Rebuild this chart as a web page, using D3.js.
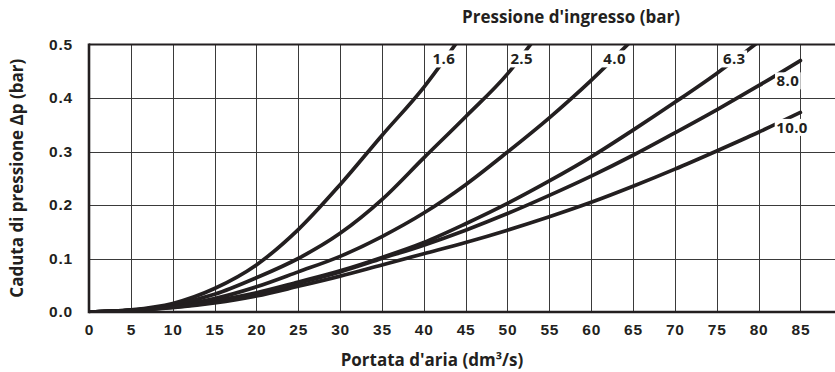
<!DOCTYPE html>
<html>
<head>
<meta charset="utf-8">
<script src="https://cdn.jsdelivr.net/npm/d3@7/dist/d3.min.js"></script>
<style>
  html, body { margin: 0; padding: 0; background: #fff; }
  svg { display: block; font-family: "Open Sans", Inter, sans-serif; }
  .tick text { font-size: 15.5px; font-weight: 700; fill: #231f20; letter-spacing: 0.8px; }
</style>
</head>
<body>
<svg id="chart" width="835" height="372"></svg>
<script>
// portata d'aria (dm3/s) e caduta di pressione (bar)
const qA = [0, 5, 10, 15, 20, 25, 30, 35, 40, 44];
const dp16 = [0, 0.004, 0.016, 0.044, 0.088, 0.154, 0.238, 0.33, 0.42, 0.505];

const qB = [0, 5, 10, 15, 20, 25, 30, 35, 40, 45, 50, 53];
const dp25 = [0, 0.003, 0.013, 0.033, 0.064, 0.1, 0.147, 0.21, 0.288, 0.365, 0.445, 0.505];

const qC = [0, 5, 10, 15, 20, 25, 30, 35, 40, 45, 50, 55, 60, 65];
const dp40 = [0, 0.003, 0.011, 0.025, 0.047, 0.075, 0.104, 0.141, 0.185, 0.238, 0.299, 0.363, 0.433, 0.51];

const qD = [0, 5, 10, 15, 20, 25, 30, 35, 40, 45, 50, 55, 60, 65, 70, 75, 80];
const dp63 = [0, 0.003, 0.01, 0.021, 0.036, 0.056, 0.077, 0.102, 0.13, 0.165, 0.203, 0.245, 0.29, 0.34, 0.392, 0.446, 0.505];

const qE = [0, 5, 10, 15, 20, 25, 30, 35, 40, 45, 50, 55, 60, 65, 70, 75, 80, 85];
const dp80 = [0, 0.003, 0.009, 0.019, 0.034, 0.054, 0.075, 0.1, 0.125, 0.153, 0.184, 0.218, 0.254, 0.293, 0.335, 0.378, 0.423, 0.47];
const dp100 = [0, 0.003, 0.008, 0.017, 0.03, 0.048, 0.067, 0.088, 0.109, 0.13, 0.153, 0.178, 0.205, 0.235, 0.267, 0.301, 0.336, 0.373];

const seriesNames = ['1.6', '2.5', '4.0', '6.3', '8.0', '10.0'];
const seriesQ = [qA, qB, qC, qD, qE, qE];
const seriesDp = [dp16, dp25, dp40, dp63, dp80, dp100];

// dove stanno le etichette delle curve (in unità del grafico)
const labelQ = [42.4, 51.7, 62.8, 77.1, 83.5, 84.0];
const labelDp = [0.474, 0.474, 0.474, 0.474, 0.433, 0.346];

const xTicks = [0, 5, 10, 15, 20, 25, 30, 35, 40, 45, 50, 55, 60, 65, 70, 75, 80, 85];
const yTicks = [0, 0.1, 0.2, 0.3, 0.4, 0.5];

const mLeft = 89, mTop = 44.5, mBottom = 312, mRight = 835;
const ink = '#231f20';

const svg = d3.select('#chart');
const x = d3.scaleLinear().domain([0, 85]).range([mLeft, 800.4]);
const y = d3.scaleLinear().domain([0, 0.5]).range([mBottom, mTop]);

// griglia
const grid = svg.append('g').attr('stroke', '#3a3a3a').attr('stroke-width', 1);
grid.selectAll('.gx').data(xTicks.slice(1)).enter().append('line')
  .attr('x1', d => Math.round(x(d)) + 0.5).attr('x2', d => Math.round(x(d)) + 0.5)
  .attr('y1', mTop).attr('y2', mBottom);
grid.selectAll('.gy').data(yTicks.slice(1, -1)).enter().append('line')
  .attr('x1', mLeft).attr('x2', mRight)
  .attr('y1', d => Math.round(y(d)) + 0.5).attr('y2', d => Math.round(y(d)) + 0.5);

// cornice
svg.append('line').attr('x1', mLeft).attr('x2', mRight).attr('y1', mTop).attr('y2', mTop)
  .attr('stroke', ink).attr('stroke-width', 2.2);
svg.append('line').attr('x1', mLeft).attr('x2', mRight).attr('y1', mBottom).attr('y2', mBottom)
  .attr('stroke', ink).attr('stroke-width', 2.6);
svg.append('line').attr('x1', mLeft).attr('x2', mLeft).attr('y1', mTop - 1).attr('y2', mBottom + 1.3)
  .attr('stroke', ink).attr('stroke-width', 2.6);

// curve
svg.append('clipPath').attr('id', 'clip').append('rect')
  .attr('x', mLeft).attr('y', mTop).attr('width', mRight - mLeft).attr('height', mBottom - mTop);

const line = d3.line()
  .x(d => x(d[0])).y(d => y(d[1]))
  .curve(d3.curveMonotoneX);

svg.append('g').attr('clip-path', 'url(#clip)')
  .selectAll('path')
  .data(seriesDp.map((dp, i) => dp.map((v, j) => [seriesQ[i][j], v])))
  .enter().append('path')
  .attr('d', line)
  .attr('fill', 'none')
  .attr('stroke', ink)
  .attr('stroke-width', 3.7)
  .attr('stroke-linecap', 'round');

// etichette delle curve, con fondo bianco che interrompe la linea
const lbl = svg.append('g');
seriesNames.forEach((name, i) => {
  const g = lbl.append('g');
  const t = g.append('text')
    .attr('x', x(labelQ[i])).attr('y', y(labelDp[i]))
    .attr('text-anchor', 'middle').attr('dominant-baseline', 'central')
    .attr('font-size', 15).attr('font-weight', 700).attr('fill', ink)
    .attr('letter-spacing', 0.4)
    .text(name);
  const b = t.node().getBBox();
  g.insert('rect', 'text')
    .attr('x', b.x - 1.5).attr('y', b.y + 2).attr('width', b.width + 3).attr('height', b.height - 3)
    .attr('fill', '#fff');
});

// assi (solo etichette)
const xAxis = svg.append('g').attr('transform', `translate(0,${mBottom})`)
  .call(d3.axisBottom(x).tickValues(xTicks).tickSize(0).tickPadding(12).tickFormat(d3.format('d')));
xAxis.select('.domain').remove();

const yAxis = svg.append('g').attr('transform', `translate(${mLeft},0)`)
  .call(d3.axisLeft(y).tickValues(yTicks).tickSize(0).tickPadding(16).tickFormat(d3.format('.1f')));
yAxis.select('.domain').remove();

// titoli
svg.append('text')
  .attr('x', 571).attr('y', 23).attr('text-anchor', 'middle')
  .attr('font-size', 17).attr('font-weight', 700).attr('fill', ink)
  .text("Pressione d'ingresso (bar)");

svg.append('text')
  .attr('x', 432).attr('y', 366).attr('text-anchor', 'middle')
  .attr('font-size', 17).attr('font-weight', 700).attr('fill', ink)
  .text("Portata d'aria (dm³/s)");

svg.append('text')
  .attr('transform', `translate(23,${(mTop + mBottom) / 2}) rotate(-90)`)
  .attr('text-anchor', 'middle')
  .attr('font-size', 17).attr('font-weight', 700).attr('fill', ink)
  .text('Caduta di pressione Δp (bar)');
</script>
</body>
</html>
